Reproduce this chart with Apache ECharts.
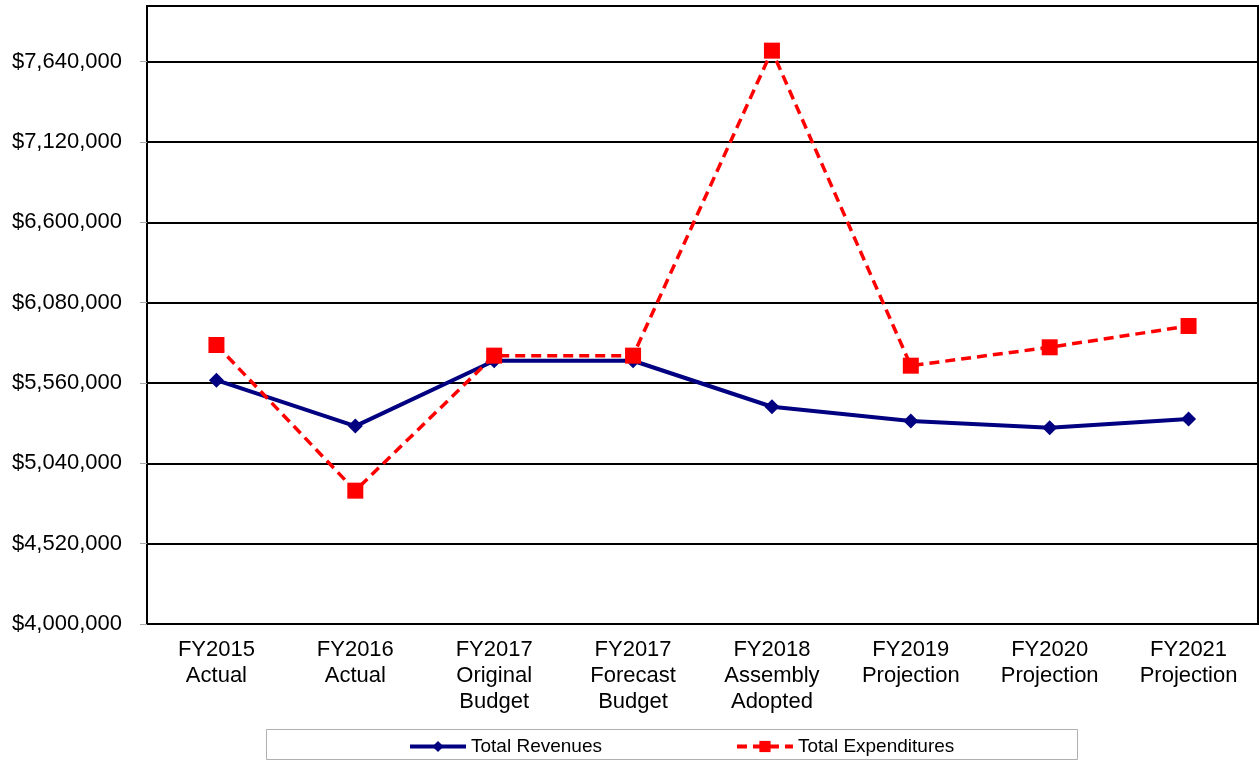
<!DOCTYPE html>
<html>
<head>
<meta charset="utf-8">
<script src="https://cdn.jsdelivr.net/npm/echarts@6/dist/echarts.min.js"></script>
<style>html,body{margin:0;padding:0;background:#fff;}#c{width:1259px;height:761px;}</style>
</head>
<body>
<div id="c"></div>
<script>
var categories = ["FY2015\nActual","FY2016\nActual","FY2017\nOriginal\nBudget","FY2017\nForecast\nBudget","FY2018\nAssembly\nAdopted","FY2019\nProjection","FY2020\nProjection","FY2021\nProjection"];
var totalRevenues = [5578000, 5281000, 5704000, 5704000, 5406000, 5314000, 5271000, 5327000];
var totalExpenditures = [5806000, 4863000, 5737000, 5737000, 7711000, 5672000, 5791000, 5929000];
var yMin = 4000000, yMax = 8000000, yStep = 520000;

var chart = echarts.init(document.getElementById('c'), null, {renderer:'canvas'});
chart.setOption({
  animation: false,
  backgroundColor: '#fff',
  textStyle: {fontFamily: 'Liberation Sans, Arial, sans-serif'},
  grid: {left: 147, top: 6, width: 1111, height: 618, show: true, borderColor: '#000', borderWidth: 2, backgroundColor: 'transparent', containLabel: false},
  graphic: [{type:'rect', shape:{x:266.5, y:729.5, width:811, height:30}, style:{fill:'#fff', stroke:'#b0b0b0', lineWidth:1}, z:-1}],
  legend: {
    left: 403, top: 732, itemWidth: 56, itemHeight: 14, itemGap: 133,
    lineStyle: {width: 4},
    textStyle: {fontSize: 19, color: '#000', fontFamily: 'Liberation Sans, Arial, sans-serif'},
    data: ['Total Revenues', 'Total Expenditures']
  },
  xAxis: {
    type: 'category', data: categories, boundaryGap: true,
    axisLine: {lineStyle: {color: '#000', width: 2}},
    axisTick: {lineStyle: {color: '#999'}, length: 5},
    axisLabel: {fontSize: 22, color: '#000', lineHeight: 26, margin: 13, interval: 0}
  },
  yAxis: {
    type: 'value', min: yMin, max: yMax, interval: yStep,
    axisLine: {show: true, lineStyle: {color: '#000', width: 2}},
    axisTick: {show: true, length: 7, lineStyle: {color: '#aaa'}},
    splitLine: {lineStyle: {color: '#000', width: 2}},
    axisLabel: {fontSize: 22, color: '#000', margin: 25, showMaxLabel: false,
      formatter: function(v){ return v >= yMax ? '' : '$' + v.toLocaleString('en-US'); }}
  },
  series: [
    {name: 'Total Revenues', type: 'line', data: totalRevenues, symbol: 'diamond', symbolSize: 15,
     lineStyle: {color: '#000080', width: 4}, itemStyle: {color: '#000080'}, z: 3},
    {name: 'Total Expenditures', type: 'line', data: totalExpenditures, symbol: 'rect', symbolSize: 16,
     lineStyle: {color: '#ff0000', width: 3.5, type: [10, 6]}, itemStyle: {color: '#ff0000'}, z: 4}
  ]
});
</script>
</body>
</html>
